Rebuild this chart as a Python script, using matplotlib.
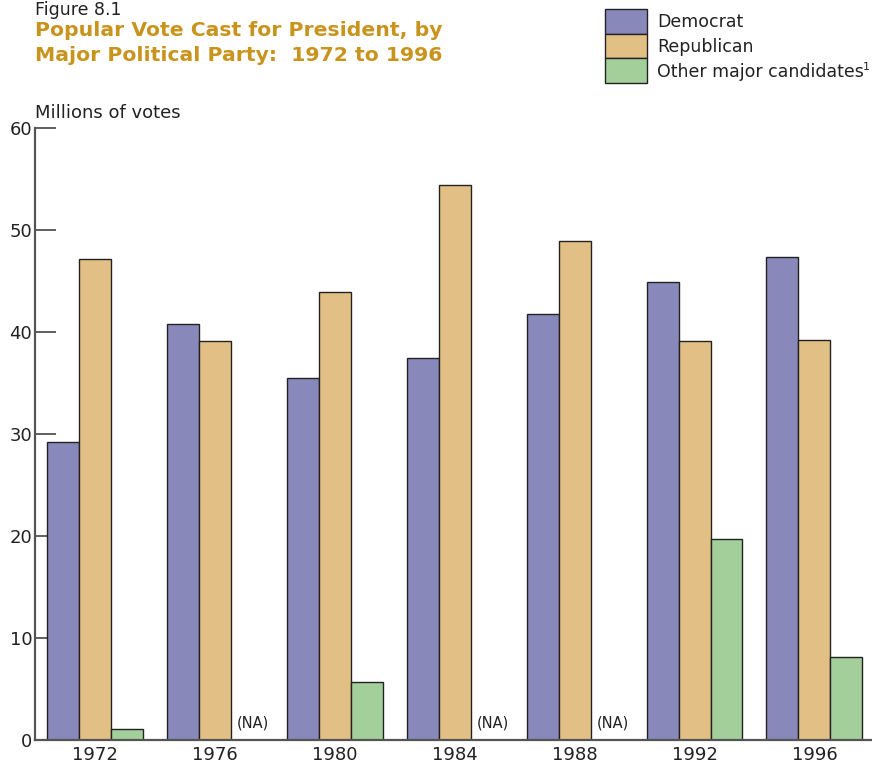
import numpy as np
import matplotlib.pyplot as plt
from matplotlib.patches import Rectangle

years = ["1972", "1976", "1980", "1984", "1988", "1992", "1996"]
democrat = [29.2, 40.8, 35.5, 37.5, 41.8, 44.9, 47.4]
republican = [47.2, 39.1, 43.9, 54.4, 48.9, 39.1, 39.2]
other = [1.1, None, 5.7, None, None, 19.7, 8.1]
series_names = ["Democrat", "Republican", "Other major candidates"]
colors = ["#8888bb", "#e2bf84", "#a3cf9a"]

plt.rcParams['font.family'] = ['DejaVu Sans']
fig = plt.figure(figsize=(8.72, 7.65), dpi=100)
W, H = 872, 765
ax = fig.add_axes([35 / W, 25 / H, (W - 35) / W, (740 - 128) / H])

x = np.arange(len(years))
bw = 0.2667
for k, vals in enumerate([democrat, republican, other]):
    for i, v in enumerate(vals):
        xpos = x[i] + (k - 1) * bw
        if v is None:
            ax.text(xpos + 0.05, 0.9, "(NA)", ha="center", va="bottom", fontsize=10.5, color="#222222")
            continue
        ax.bar(xpos, v, bw, color=colors[k], edgecolor="#222222", linewidth=1.0, zorder=2)

ax.set_xlim(-0.5, 6.48)
ax.set_ylim(0, 60)
ax.set_yticks(range(0, 61, 10))
ax.set_xticks(x)
ax.set_xticklabels(years)
ax.set_axisbelow(True)
for s in ["top", "right"]:
    ax.spines[s].set_visible(False)
for s in ["left", "bottom"]:
    ax.spines[s].set_color("#555555")
    ax.spines[s].set_linewidth(1.6)
    ax.spines[s].set_zorder(3)
ax.tick_params(axis="y", direction="in", length=15, width=1.2, color="#444444",
               labelsize=13, labelcolor="#222222", pad=2)
ax.tick_params(axis="x", length=0, labelsize=13, labelcolor="#222222", pad=4)

fig.text(35 / W, 1 - 118 / H, "Millions of votes", fontsize=13, color="#222222", va="baseline")
fig.text(35 / W, 1 - 15 / H, "Figure 8.1", fontsize=12.5, color="#222222", va="baseline")
fig.text(35 / W, 1 - 36 / H, "Popular Vote Cast for President, by", fontsize=14.7,
         fontweight="bold", color="#c8941e", va="baseline")
fig.text(35 / W, 1 - 61 / H, "Major Political Party:  1972 to 1996", fontsize=14.7,
         fontweight="bold", color="#c8941e", va="baseline")

# legend
box_top = 9
box_h = 24.7
for k, name in enumerate(series_names):
    y0 = box_top + k * box_h
    fig.patches.append(Rectangle((605 / W, 1 - (y0 + box_h) / H), 42 / W, box_h / H,
                                 transform=fig.transFigure, facecolor=colors[k],
                                 edgecolor="#222222", linewidth=1.0))
    fig.text(657 / W, 1 - (y0 + box_h / 2 + 1) / H, name, fontsize=12.5, color="#222222", va="center")
fig.text(863 / W, 1 - 70 / H, "1", fontsize=8, color="#222222", va="baseline")

fig.savefig("out.png", dpi=100)
